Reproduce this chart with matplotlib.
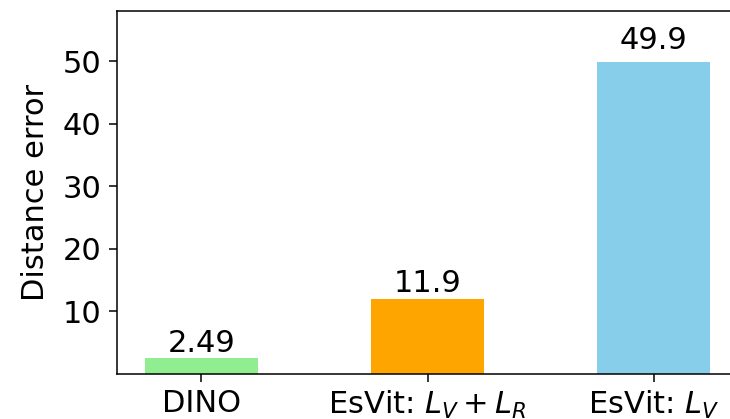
import matplotlib
matplotlib.use("Agg")
import matplotlib.pyplot as plt

methods = ["DINO", "EsVit: $L_V + L_R$", "EsVit: $L_V$"]
distance_error = [2.49, 11.9, 49.9]
bar_colors = ["lightgreen", "orange", "skyblue"]

plt.rcParams["font.size"] = 22

fig = plt.figure(figsize=(7.3, 4.19), dpi=100)
# axes run a little past the right edge of the canvas
ax = fig.add_axes([116.5 / 730, 45.3 / 419, 622 / 730, 362.7 / 419])

bars = ax.bar(methods, distance_error, width=0.5, color=bar_colors)
for bar, v in zip(bars, distance_error):
    ax.text(bar.get_x() + bar.get_width() / 2, v * 1.02, str(v),
            ha="center", va="bottom", fontsize=22)

ax.set_xlim(-0.375, 2.375)
ax.set_ylim(0, 58)
ax.set_yticks([10, 20, 30, 40, 50])
ax.set_ylabel("Distance error", fontsize=22, labelpad=9)
ax.tick_params(length=6, width=1.1, pad=5)
for s in ax.spines.values():
    s.set_linewidth(1.1)

fig.savefig("out.png", dpi=100)
